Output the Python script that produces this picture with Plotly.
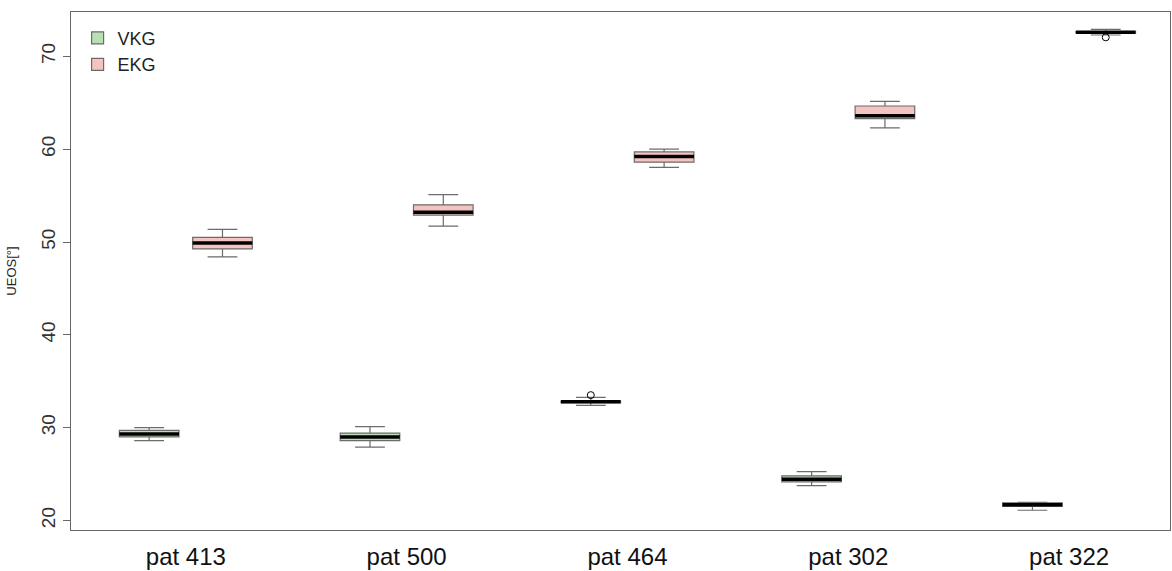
import plotly.graph_objects as go

patients = ["pat 413", "pat 500", "pat 464", "pat 302", "pat 322"]

vkg_lower = [28.6, 27.9, 32.4, 23.75, 21.1]
vkg_q1 = [29.0, 28.6, 32.7, 24.15, 21.5]
vkg_median = [29.3, 29.0, 32.78, 24.45, 21.7]
vkg_q3 = [29.7, 29.4, 32.85, 24.8, 21.9]
vkg_upper = [30.0, 30.1, 33.25, 25.25, 21.95]
vkg_out_x = ["pat 464"]
vkg_out_y = [33.5]

ekg_lower = [48.4, 51.7, 58.05, 62.3, 72.3]
ekg_q1 = [49.25, 52.9, 58.6, 63.3, 72.52]
ekg_median = [49.9, 53.2, 59.2, 63.6, 72.6]
ekg_q3 = [50.5, 54.0, 59.7, 64.65, 72.68]
ekg_upper = [51.35, 55.1, 60.0, 65.15, 72.9]
ekg_out_x = ["pat 322"]
ekg_out_y = [72.05]

y_ticks = [20, 30, 40, 50, 60, 70]

OFFSET = 0.166
BOXW = 0.27

idx = {p: i for i, p in enumerate(patients)}
x_vkg = [i - OFFSET for i in range(len(patients))]
x_ekg = [i + OFFSET for i in range(len(patients))]

fig = go.Figure()


def add_group(name, xs, lo, q1, med, q3, hi, fill, ox, oy, off):
    fig.add_trace(go.Box(
        name=name, x=xs, q1=q1, median=med, q3=q3,
        lowerfence=lo, upperfence=hi, width=BOXW,
        fillcolor=fill, line=dict(color="#6b6b6b", width=1.2),
        whiskerwidth=0.5, boxpoints=False, showlegend=True,
    ))
    mx, my = [], []
    for x, m in zip(xs, med):
        mx += [x - BOXW / 2, x + BOXW / 2, None]
        my += [m, m, None]
    fig.add_trace(go.Scatter(x=mx, y=my, mode="lines",
                             line=dict(color="black", width=3.5),
                             showlegend=False, hoverinfo="skip"))
    fig.add_trace(go.Scatter(x=[idx[p] + off for p in ox], y=oy, mode="markers",
                             marker=dict(symbol="circle-open", size=7,
                                         color="black", line=dict(width=1)),
                             showlegend=False))


add_group("VKG", x_vkg, vkg_lower, vkg_q1, vkg_median, vkg_q3, vkg_upper,
          "#b9dfb5", vkg_out_x, vkg_out_y, -OFFSET)
add_group("EKG", x_ekg, ekg_lower, ekg_q1, ekg_median, ekg_q3, ekg_upper,
          "#f6c4c0", ekg_out_x, ekg_out_y, OFFSET)

fig.update_layout(
    width=1172, height=571,
    margin=dict(l=71, r=2, t=12, b=41),
    paper_bgcolor="white", plot_bgcolor="white",
    font=dict(family="Liberation Sans, Arial, sans-serif", color="#222"),
    showlegend=True,
    legend=dict(x=0.006, y=0.985, xanchor="left", yanchor="top",
                bgcolor="rgba(0,0,0,0)", font=dict(size=18, color="#222"),
                tracegroupgap=0, itemwidth=30),
    xaxis=dict(
        range=[-0.52, 4.457], tickmode="array",
        tickvals=list(range(len(patients))), ticktext=patients,
        showgrid=False, zeroline=False, showline=True, mirror=True,
        linecolor="#666", linewidth=1, ticks="",
        tickfont=dict(size=24, color="#111"), ticklabelstandoff=5,
        automargin=False,
    ),
    yaxis=dict(
        range=[18.97, 74.78], tickmode="array", tickvals=y_ticks,
        showgrid=False, zeroline=False, showline=True, mirror=True,
        linecolor="#666", linewidth=1, ticks="outside", ticklen=7,
        tickcolor="#666", tickangle=-90,
        tickfont=dict(size=19, color="#333"),
        title=dict(text="UEOS[°]", font=dict(size=13, color="#222"), standoff=18),
        automargin=False,
    ),
)

fig.write_html("out.html")
